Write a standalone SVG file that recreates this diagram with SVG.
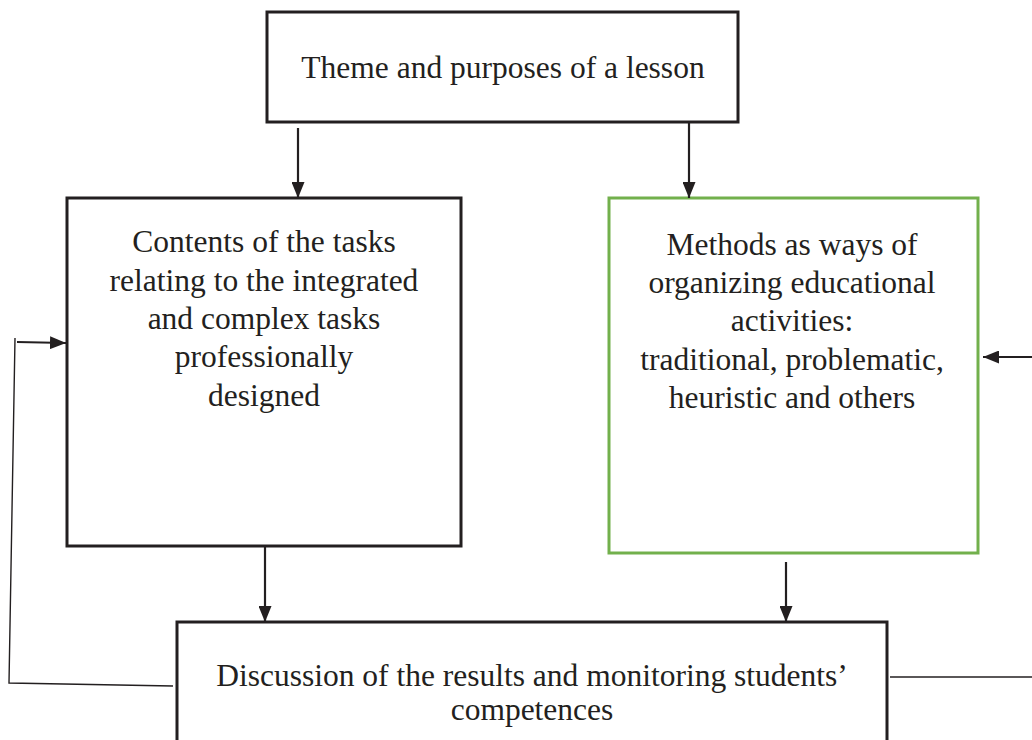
<svg xmlns="http://www.w3.org/2000/svg" width="1032" height="740" viewBox="0 0 1032 740">
  <defs>
    <marker id="head" viewBox="0 0 16 13" refX="16" refY="6.5" markerWidth="16" markerHeight="13" markerUnits="userSpaceOnUse" orient="auto">
      <path d="M0,0 L16,6.5 L0,13 Z" fill="#231f20"/>
    </marker>
    <style>
      .box { fill: #ffffff; stroke: #231f20; stroke-width: 3; }
      .green { stroke: #72b04c; }
      .lbl { font-family: "Liberation Serif", "Times New Roman", serif; font-size: 31.5px; fill: #231f20; text-anchor: middle; }
      .arrow { fill: none; stroke: #231f20; stroke-width: 2.2; marker-end: url(#head); }
      .thin { fill: none; stroke: #231f20; stroke-width: 1.4; }
    </style>
  </defs>

  <rect width="1032" height="740" fill="#ffffff"/>

  <!-- theme box -->
  <g id="theme">
    <rect class="box" x="267" y="12" width="471" height="110"/>
    <text class="lbl" x="503" y="78">Theme and purposes of a lesson</text>
  </g>

  <!-- task content box -->
  <g id="contents">
    <rect class="box" x="67" y="198" width="394" height="348"/>
    <text class="lbl" x="264" y="252">Contents of the tasks</text>
    <text class="lbl" x="264" y="291">relating to the integrated</text>
    <text class="lbl" x="264" y="329">and complex tasks</text>
    <text class="lbl" x="264" y="367">professionally</text>
    <text class="lbl" x="264" y="406">designed</text>
  </g>

  <!-- methods box -->
  <g id="methods">
    <rect class="box green" x="609" y="198" width="369" height="355" stroke-width="2.5"/>
    <text class="lbl" x="792" y="255">Methods as ways of</text>
    <text class="lbl" x="792" y="293">organizing educational</text>
    <text class="lbl" x="792" y="331">activities:</text>
    <text class="lbl" x="792" y="370">traditional, problematic,</text>
    <text class="lbl" x="792" y="408">heuristic and others</text>
  </g>

  <!-- discussion box (runs past the lower edge) -->
  <g id="discussion">
    <rect class="box" x="177" y="622" width="710" height="140"/>
    <text class="lbl" x="532" y="686">Discussion of the results and monitoring students’</text>
    <text class="lbl" x="532" y="720">competences</text>
  </g>

  <!-- connectors -->
  <g id="connectors">
    <line class="arrow" x1="298" y1="128" x2="298" y2="198"/>
    <line class="arrow" x1="689" y1="122" x2="689" y2="198"/>
    <line class="arrow" x1="265" y1="546" x2="265" y2="622"/>
    <line class="arrow" x1="786" y1="562" x2="786" y2="622"/>
    <line class="arrow" x1="17" y1="342" x2="66" y2="343"/>
    <line class="arrow" x1="1032" y1="357" x2="983" y2="357"/>
    <polyline class="thin" points="173,686 9,683 15,338"/>
    <line class="thin" x1="890" y1="677" x2="1032" y2="677"/>
  </g>
</svg>
